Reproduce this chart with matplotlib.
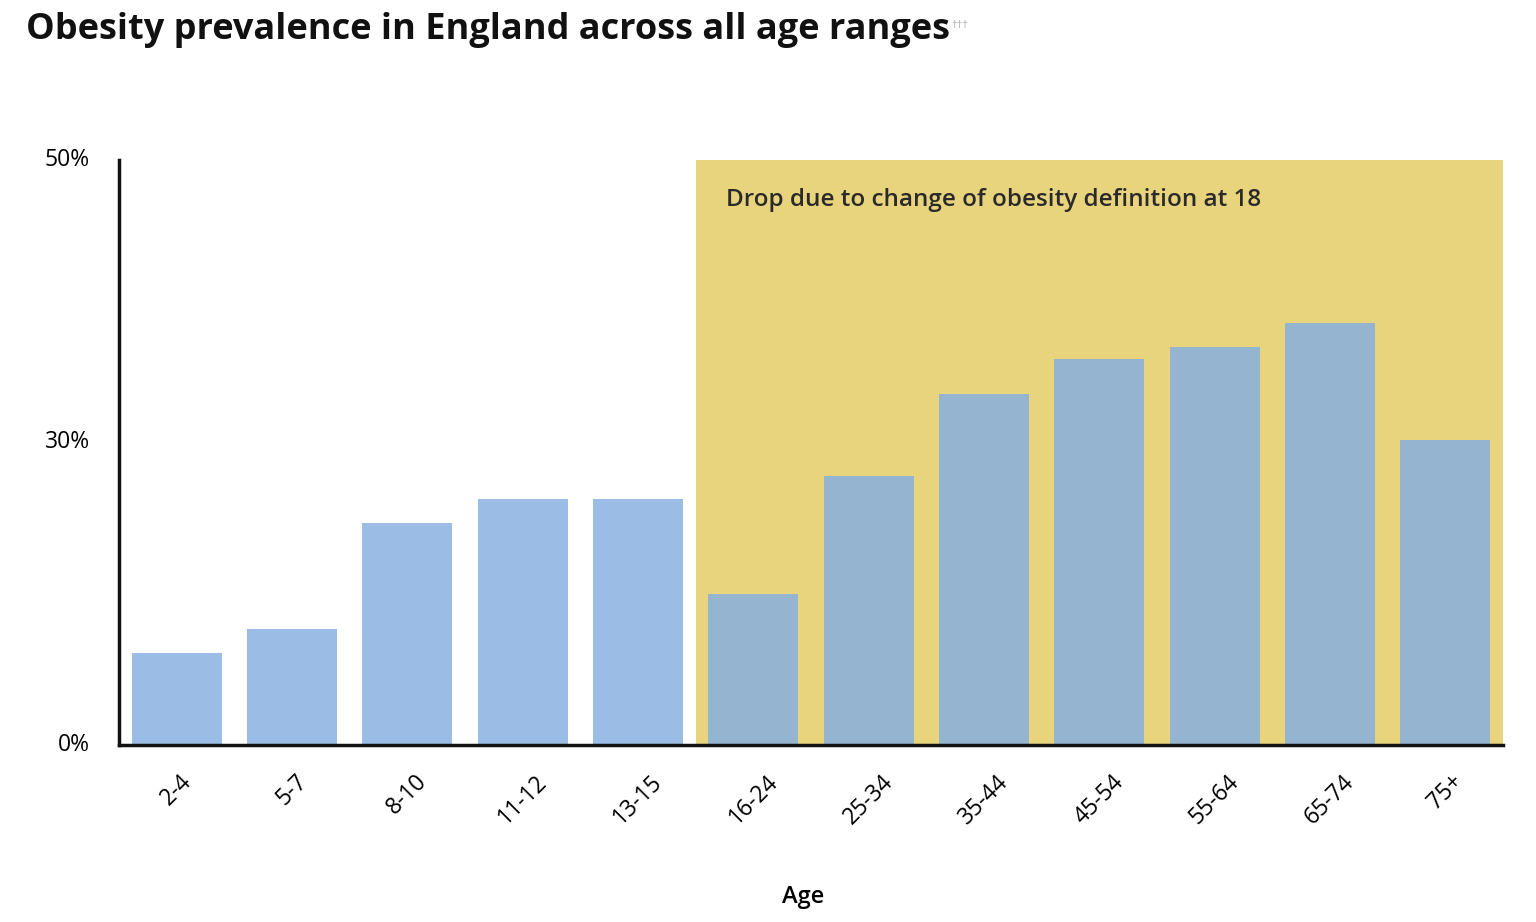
import matplotlib
matplotlib.use("Agg")
import matplotlib.pyplot as plt

ages = ["2-4", "5-7", "8-10", "11-12", "13-15", "16-24", "25-34",
        "35-44", "45-54", "55-64", "65-74", "75+"]
obesity_pct = [7.9, 9.9, 19.0, 21.0, 21.0, 12.9, 23.0, 30.0, 33.0, 34.0, 36.1, 26.1]
is_adult = [False] * 5 + [True] * 7
ytick_vals = [0, 25.9, 50]
ytick_labels = ["0%", "30%", "50%"]

plt.rcParams['font.family'] = ['Open Sans', 'DejaVu Sans']

fig = plt.figure(figsize=(15.36, 9.22), dpi=100)
ax = fig.add_axes([0.0775, 0.192, 0.901, 0.6345])

x = list(range(len(ages)))
ax.axvspan(4.5, 11.5, ymin=0, ymax=1, color="#e9d47e", zorder=0, lw=0)
colors = ["#94b4cf" if a else "#9bbde5" for a in is_adult]
ax.bar(x, obesity_pct, width=0.78, color=colors, zorder=2)

ax.set_xlim(-0.5, 11.5)
ax.set_ylim(0, 50)
ax.set_yticks(ytick_vals)
ax.set_yticklabels(ytick_labels, fontsize=16.5)
ax.set_xticks(x)
ax.set_xticklabels(ages, rotation=45, fontsize=16.5, ha="center", va="top")
ax.tick_params(axis="both", length=0)
ax.tick_params(axis="x", pad=18)
ax.tick_params(axis="y", pad=21)
for lbl in ax.get_yticklabels():
    lbl.set_verticalalignment("center")

for s in ["top", "right"]:
    ax.spines[s].set_visible(False)
ax.spines["left"].set_linewidth(2.5)
ax.spines["bottom"].set_linewidth(2.5)
ax.spines["left"].set_color("#111111")
ax.spines["bottom"].set_color("#111111")
ax.spines["left"].set_zorder(5)
ax.spines["bottom"].set_zorder(5)

ax.set_xlabel("Age", fontsize=17, fontweight="semibold", labelpad=41)
ax.xaxis.set_label_coords(0.493, -0.23 + 0.0)
ax.xaxis.label.set_verticalalignment("center")
ax.xaxis.set_label_coords(0.494, (745 - 897) / 585)

ax.text(4.76, 46.6, "Drop due to change of obesity definition at 18",
        fontsize=17.5, fontweight="semibold", color="#2a2a2a", ha="left", va="center", zorder=3)

title = fig.text(0.017, 0.968, "Obesity prevalence in England across all age ranges",
                 fontsize=26, fontweight="bold", ha="left", va="center", color="#111111")
fig.canvas.draw()
bb = title.get_window_extent().transformed(fig.transFigure.inverted())
fig.text(bb.x1 + 0.001, 0.972, "\u2020\u2020\u2020", fontsize=8, color="#aaaaaa",
         ha="left", va="center")

fig.savefig("out.png", dpi=100)
